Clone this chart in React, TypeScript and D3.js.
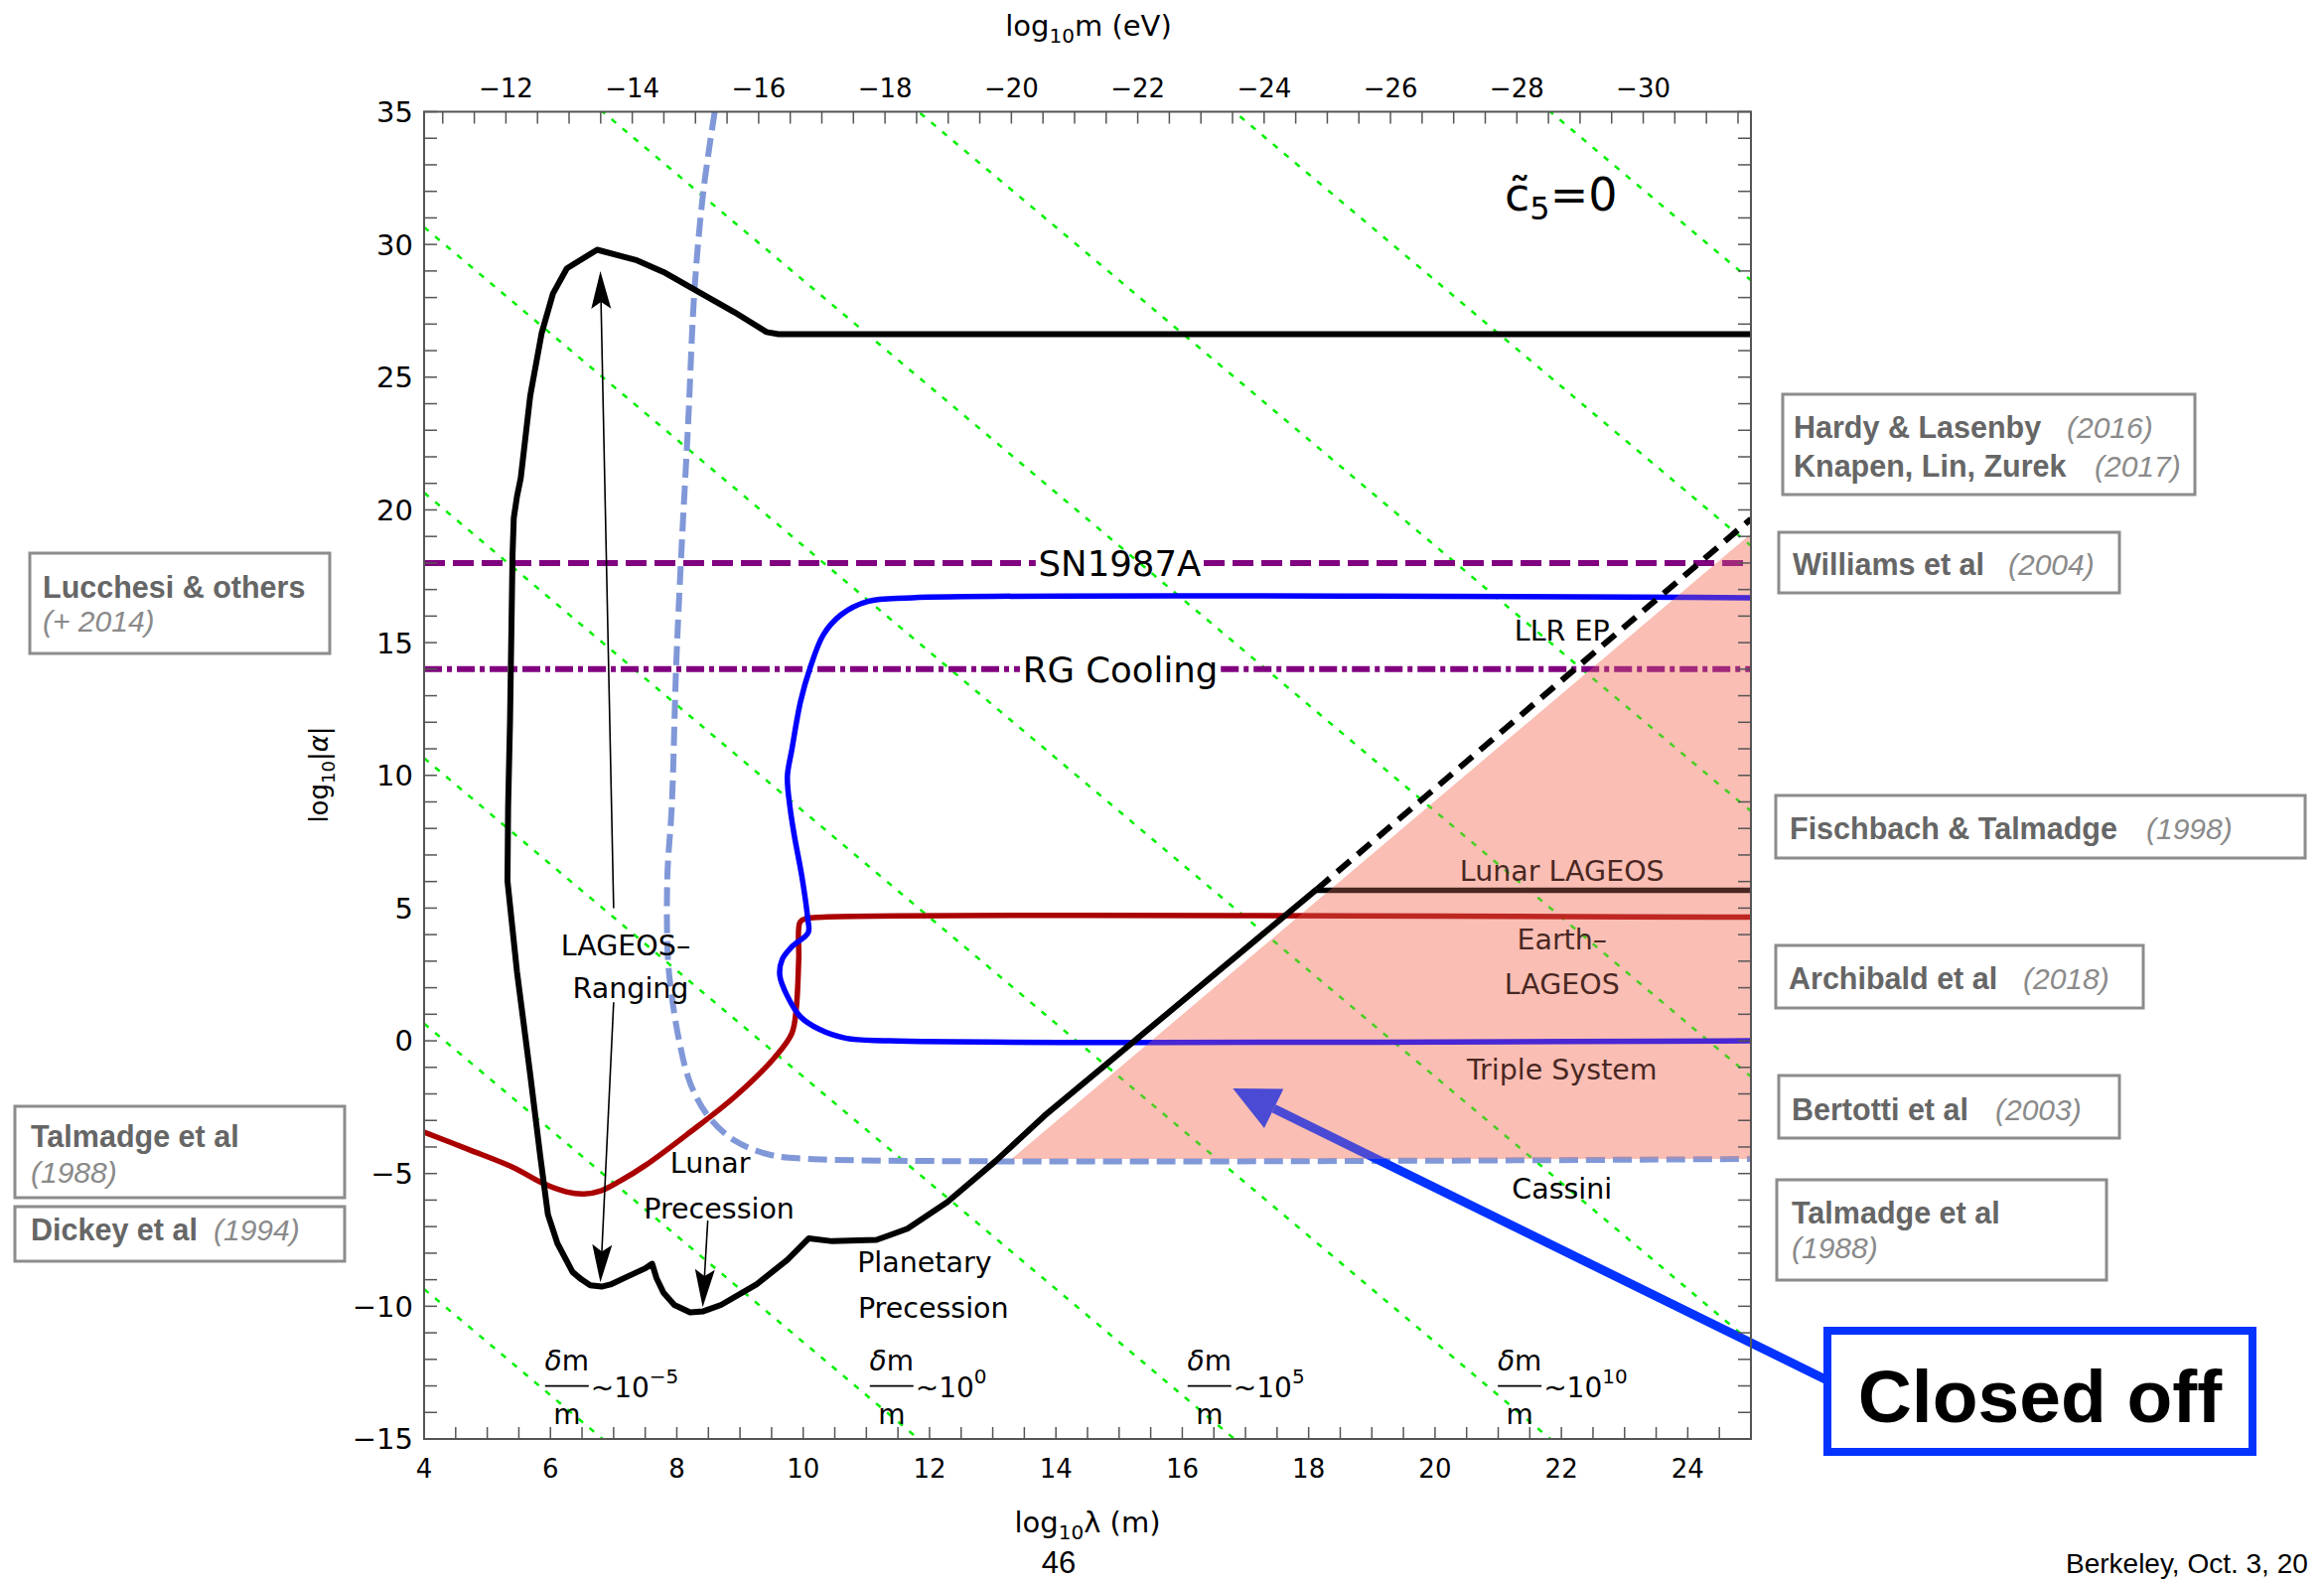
import React from "react";
import * as d3 from "d3";

type P = [number, number];

// ---------------- DATA ----------------
const xTickLabels = [4, 6, 8, 10, 12, 14, 16, 18, 20, 22, 24];
const yTickLabels = [-15, -10, -5, 0, 5, 10, 15, 20, 25, 30, 35];
const mTickLabels = [-12, -14, -16, -18, -20, -22, -24, -26, -28, -30];
const LOG10_HBARC_EV_M = -6.7048; // log10(ħc) in eV·m, links top axis to bottom axis

// LAGEOS-Ranging / Lunar / Planetary precession envelope (solid black)
const blackCurve: P[] = [
  [25, 26.62], [9.61, 26.62], [9.42, 26.7], [8.91, 27.45], [8.28, 28.3], [7.79, 28.96],
  [7.37, 29.4], [6.74, 29.8], [6.26, 29.1], [6.04, 28.15], [5.86, 26.65], [5.68, 24.3],
  [5.53, 21.2], [5.47, 20.5], [5.42, 19.7], [5.40, 18.3], [5.36, 12.0], [5.33, 8.8],
  [5.32, 6.02], [5.47, 2.61], [5.68, -1.27], [5.84, -4.37], [5.96, -6.54], [6.11, -7.63],
  [6.35, -8.71], [6.49, -8.99], [6.63, -9.21], [6.81, -9.26], [6.95, -9.18], [7.23, -8.87],
  [7.51, -8.56], [7.61, -8.4], [7.68, -8.95], [7.79, -9.49], [7.96, -9.95], [8.21, -10.23],
  [8.42, -10.19], [8.70, -9.95], [9.26, -9.18], [9.75, -8.25], [10.09, -7.44], [10.46, -7.55],
  [11.16, -7.5], [11.37, -7.32], [11.65, -7.08], [12.28, -6.08], [13.05, -4.52], [13.82, -2.82],
  [18.13, 5.71],
];
const blackDashed: P[] = [[18.13, 5.71], [25, 19.66]];

// LLR EP + Triple System (blue)
const blueCurve: P[] = [
  [25, 16.69], [11.72, 16.69], [11.02, 16.55], [10.60, 16.05], [10.32, 15.3], [10.11, 14.05],
  [9.96, 12.8], [9.82, 10.96], [9.75, 9.96], [9.79, 8.82], [9.86, 7.73], [9.98, 6.18],
  [10.07, 4.63], [10.08, 4.08], [9.82, 3.54], [9.67, 3.08], [9.63, 2.46], [9.75, 1.68],
  [9.96, 0.9], [10.25, 0.44], [10.67, 0.1], [11.37, 0.0], [25, 0.0],
];

// Earth-LAGEOS (dark red)
const redCurve: P[] = [
  [4.0, -3.44], [4.70, -4.09], [5.40, -4.76], [5.89, -5.38], [6.25, -5.69], [6.53, -5.77],
  [6.81, -5.64], [7.09, -5.30], [7.51, -4.68], [8.21, -3.44], [8.91, -2.12], [9.54, -0.65],
  [9.82, 0.28], [9.89, 1.21], [9.93, 3.08], [9.95, 4.47], [10.04, 4.60], [10.32, 4.66], [25, 4.66],
];

// Cassini (light blue dashed)
const cassiniCurve: P[] = [
  [8.6, 35], [8.42, 32], [8.28, 28.3], [8.18, 23.3], [8.07, 18.3], [7.99, 14.13], [7.92, 8.82],
  [7.85, 6.18], [7.86, 3.08], [7.93, 1.52], [8.04, -0.03], [8.21, -1.58], [8.49, -2.82],
  [8.91, -3.75], [9.47, -4.29], [10.1, -4.45], [25, -4.45],
];

const lunarLageos: P[] = [[18.13, 5.67], [25, 5.67]];
const closedRegion: P[] = [[13.3, -4.45], [25, 19.1], [25, -4.45]];

const snLevel = 18;
const snGap: P = [13.68, 16.34];
const rgLevel = 14;
const rgGap: P = [13.43, 16.61];

// δm/m ~ const lines: log|α| = c − 2·log λ
const greenIntercepts = [-1.35, 8.65, 18.65, 28.65, 38.65, 48.65, 58.65, 68.65, 78.65];
const dmLabelX = [6.26, 11.4, 16.43, 21.34];
const dmLabelExp = ["−5", "0", "5", "10"];

const lageosArrows: { from: P; to: P }[] = [
  { from: [7.0, 5.0], to: [6.79, 29.0] },
  { from: [7.0, 1.45], to: [6.79, -9.1] },
  { from: [8.49, -6.77], to: [8.41, -10.03] },
];

const plotLabels: { text: string; x: number; y: number; size: number }[] = [
  { text: "LAGEOS–", x: 7.19, y: 3.22, size: 28.5 },
  { text: "Ranging", x: 7.27, y: 1.61, size: 28.5 },
  { text: "Lunar", x: 8.53, y: -4.97, size: 28.5 },
  { text: "Precession", x: 8.67, y: -6.69, size: 28.5 },
  { text: "Planetary", x: 11.92, y: -8.71, size: 28.5 },
  { text: "Precession", x: 12.06, y: -10.43, size: 28.5 },
  { text: "LLR EP", x: 22.01, y: 15.08, size: 28.5 },
  { text: "Lunar LAGEOS", x: 22.01, y: 6.03, size: 28.5 },
  { text: "Earth–", x: 22.01, y: 3.44, size: 28.5 },
  { text: "LAGEOS", x: 22.01, y: 1.76, size: 28.5 },
  { text: "Triple System", x: 22.01, y: -1.46, size: 28.5 },
  { text: "Cassini", x: 22.01, y: -5.95, size: 28.5 },
];

const closedOffTip: P = [16.8, -1.79];

type RefLine = { t?: string; yr?: string; yrX?: number; by: number };
type RefBox = { x: number; y: number; w: number; h: number; tx: number; lines: RefLine[] };
const refBoxes: RefBox[] = [
  { x: 1795, y: 397, w: 415, h: 101, tx: 1806, lines: [
    { t: "Hardy & Lasenby", yr: "(2016)", yrX: 2081, by: 441 },
    { t: "Knapen, Lin, Zurek", yr: "(2017)", yrX: 2109, by: 480 } ] },
  { x: 1791, y: 536, w: 343, h: 61, tx: 1805, lines: [
    { t: "Williams et al", yr: "(2004)", yrX: 2022, by: 579 } ] },
  { x: 1788, y: 801, w: 533, h: 63, tx: 1802, lines: [
    { t: "Fischbach & Talmadge", yr: "(1998)", yrX: 2161, by: 845 } ] },
  { x: 1788, y: 952, w: 370, h: 63, tx: 1801, lines: [
    { t: "Archibald et al", yr: "(2018)", yrX: 2037, by: 996 } ] },
  { x: 1791, y: 1083, w: 343, h: 63, tx: 1804, lines: [
    { t: "Bertotti et al", yr: "(2003)", yrX: 2009, by: 1128 } ] },
  { x: 1789, y: 1188, w: 332, h: 101, tx: 1804, lines: [
    { t: "Talmadge et al", by: 1232 }, { yr: "(1988)", yrX: 1804, by: 1267 } ] },
  { x: 30, y: 557, w: 302, h: 101, tx: 43, lines: [
    { t: "Lucchesi & others", by: 602 }, { yr: "(+ 2014)", yrX: 43, by: 636 } ] },
  { x: 15, y: 1114, w: 332, h: 92, tx: 31, lines: [
    { t: "Talmadge et al", by: 1155 }, { yr: "(1988)", yrX: 31, by: 1191 } ] },
  { x: 15, y: 1215, w: 332, h: 55, tx: 31, lines: [
    { t: "Dickey et al", yr: "(1994)", yrX: 215, by: 1249 } ] },
];

// ---------------- LAYOUT ----------------
const W = 2340, H = 1591;
const PL = 427, PR = 1763, PT = 112.5, PB = 1449;
const FONT = "'DejaVu Sans', sans-serif";
const SANS = "'Liberation Sans', Arial, sans-serif";

const x = d3.scaleLinear().domain([4, 25]).range([PL, PR]);
const y = d3.scaleLinear().domain([-15, 35]).range([PB, PT]);
const lin = d3.line<P>().x((d) => x(d[0])).y((d) => y(d[1]));
const smooth = d3.line<P>().x((d) => x(d[0])).y((d) => y(d[1])).curve(d3.curveCatmullRom.alpha(0.5));

function arrowHead(tip: P, from: P, len: number, halfW: number, notch: number) {
  const dx = tip[0] - from[0], dy = tip[1] - from[1];
  const L = Math.hypot(dx, dy);
  const ux = dx / L, uy = dy / L;
  const nx = -uy, ny = ux;
  const bx = tip[0] - ux * len, by = tip[1] - uy * len;
  const mx = tip[0] - ux * len * notch, my = tip[1] - uy * len * notch;
  return {
    points: `${tip[0]},${tip[1]} ${bx + nx * halfW},${by + ny * halfW} ${mx},${my} ${bx - nx * halfW},${by - ny * halfW}`,
    end: [mx, my] as P,
  };
}

export default function App() {
  const leftMinor = d3.range(-15, 35.01, 1);
  const bottomMinor = d3.range(4, 25.01, 0.5);
  const topMinor = d3.range(-11, -31.51, -0.5).map((m) => LOG10_HBARC_EV_M - m).filter((v) => v >= 4 && v <= 25);

  const closedTipPx: P = [x(closedOffTip[0]), y(closedOffTip[1])];
  const closedTail: P = [1840, 1390];
  const closedHead = arrowHead(closedTipPx, closedTail, 46, 22, 1);

  return (
    <svg width={W} height={H} style={{ position: "absolute", left: 0, top: 0, background: "#fff" }}>
      <defs>
        <clipPath id="plotClip">
          <rect x={PL} y={PT} width={PR - PL} height={PB - PT} />
        </clipPath>
      </defs>
      <rect x={0} y={0} width={W} height={H} fill="#fff" />

      <g clipPath="url(#plotClip)">
        {/* pink closed region base */}
        <path d={lin(closedRegion) + "Z"} fill="#ffd9d1" />

        {/* green δm/m lines */}
        {greenIntercepts.map((c, i) => (
          <path key={i} d={lin([[4, c - 8], [25, c - 50]]) as string} stroke="#00f000" strokeWidth={2.5}
            strokeDasharray="6,8.5" fill="none" />
        ))}

        {/* SN1987A and RG cooling */}
        <path d={lin([[4, snLevel], [snGap[0], snLevel]]) as string} stroke="#800080" strokeWidth={6} strokeDasharray="21,8" fill="none" />
        <path d={lin([[snGap[1], snLevel], [25, snLevel]]) as string} stroke="#800080" strokeWidth={6} strokeDasharray="21,8" fill="none" />
        <path d={lin([[4, rgLevel], [rgGap[0], rgLevel]]) as string} stroke="#800080" strokeWidth={6} strokeDasharray="18,5,5,5" fill="none" />
        <path d={lin([[rgGap[1], rgLevel], [25, rgLevel]]) as string} stroke="#800080" strokeWidth={6} strokeDasharray="18,5,5,5" fill="none" />

        {/* Cassini */}
        <path d={smooth(cassiniCurve) as string} stroke="#8098d8" strokeWidth={6} strokeDasharray="19,8" fill="none" />

        {/* Earth-LAGEOS, LLR */}
        <path d={smooth(redCurve) as string} stroke="#aa0000" strokeWidth={5.5} fill="none" strokeLinejoin="round" />
        <path d={smooth(blueCurve) as string} stroke="#0000ff" strokeWidth={5.5} fill="none" strokeLinejoin="round" />
        <path d={lin(lunarLageos) as string} stroke="#000" strokeWidth={5.5} fill="none" />

        {/* black envelope */}
        <path d={lin(blackCurve) as string} stroke="#000" strokeWidth={6} fill="none" strokeLinejoin="round" />
        <path d={lin(blackDashed) as string} stroke="#000" strokeWidth={6} strokeDasharray="17,10" fill="none" />

        {/* labels */}
        {plotLabels.map((l, i) => (
          <text key={i} x={x(l.x)} y={y(l.y)} fontSize={l.size} fontFamily={FONT} textAnchor="middle" fill="#000">{l.text}</text>
        ))}
        <text x={x((snGap[0] + snGap[1]) / 2)} y={y(snLevel)} dy="0.36em" fontSize={35.5} fontFamily={FONT} textAnchor="middle">SN1987A</text>
        <text x={x((rgGap[0] + rgGap[1]) / 2)} y={y(rgLevel)} dy="0.36em" fontSize={35.5} fontFamily={FONT} textAnchor="middle">RG Cooling</text>

        {/* δm/m labels */}
        {dmLabelX.map((lx, i) => (
          <g key={i} fontFamily={FONT} fontSize={28}>
            <text x={x(lx)} y={y(-12.42)} textAnchor="middle"><tspan fontStyle="italic">δ</tspan>m</text>
            <line x1={x(lx) - 22} x2={x(lx) + 22} y1={y(-13.0)} y2={y(-13.0)} stroke="#000" strokeWidth={1.8} />
            <text x={x(lx)} y={y(-14.44)} textAnchor="middle">m</text>
            <text x={x(lx) + 24} y={y(-13.43)} textAnchor="start">~10<tspan dy="-14" fontSize={20}>{dmLabelExp[i]}</tspan></text>
          </g>
        ))}

        {/* LAGEOS arrows */}
        {lageosArrows.map((a, i) => {
          const tip: P = [x(a.to[0]), y(a.to[1])];
          const from: P = [x(a.from[0]), y(a.from[1])];
          const h = arrowHead(tip, from, 38, 10, 0.82);
          return (
            <g key={i}>
              <line x1={from[0]} y1={from[1]} x2={h.end[0]} y2={h.end[1]} stroke="#000" strokeWidth={1.6} />
              <polygon points={h.points} fill="#000" />
            </g>
          );
        })}
      </g>

      {/* closed-off arrow */}
      <line x1={closedTail[0]} y1={closedTail[1]} x2={closedHead.end[0]} y2={closedHead.end[1]} stroke="#0433ff" strokeWidth={9} />
      <polygon points={closedHead.points} fill="#0433ff" />

      {/* pink overlay (tints everything inside the region) */}
      <g clipPath="url(#plotClip)">
        <path d={lin(closedRegion) + "Z"} fill="#f08070" fillOpacity={0.3} />
      </g>

      {/* frame */}
      <rect x={PL} y={PT} width={PR - PL} height={PB - PT} fill="none" stroke="#555" strokeWidth={2} />
      {leftMinor.map((v, i) => (
        <g key={"l" + i}>
          <line x1={PL} x2={PL + 13} y1={y(v)} y2={y(v)} stroke="#555" strokeWidth={1.5} />
          <line x1={PR} x2={PR - 13} y1={y(v)} y2={y(v)} stroke="#555" strokeWidth={1.5} />
        </g>
      ))}
      {bottomMinor.map((v, i) => (
        <line key={"b" + i} x1={x(v)} x2={x(v)} y1={PB} y2={PB - 12} stroke="#555" strokeWidth={1.5} />
      ))}
      {topMinor.map((v, i) => (
        <line key={"t" + i} x1={x(v)} x2={x(v)} y1={PT} y2={PT + 12} stroke="#555" strokeWidth={1.5} />
      ))}
      {yTickLabels.map((v) => (
        <text key={"yl" + v} x={PL - 11} y={y(v)} dy="0.36em" textAnchor="end" fontSize={29} fontFamily={FONT}>
          {v < 0 ? `−${-v}` : `${v}`}
        </text>
      ))}
      {xTickLabels.map((v) => (
        <text key={"xl" + v} x={x(v)} y={PB + 39} textAnchor="middle" fontSize={26} fontFamily={FONT}>{v}</text>
      ))}
      {mTickLabels.map((m) => (
        <text key={"ml" + m} x={x(LOG10_HBARC_EV_M - m)} y={PT - 15} textAnchor="middle" fontSize={26} fontFamily={FONT}>
          {`−${-m}`}
        </text>
      ))}

      {/* axis titles */}
      <text x={1096} y={36} textAnchor="middle" fontSize={29} fontFamily={FONT}>
        log<tspan dy="7" fontSize={20}>10</tspan><tspan dy="-7">m (eV)</tspan>
      </text>
      <text x={1095} y={1543} textAnchor="middle" fontSize={29} fontFamily={FONT}>
        log<tspan dy="7" fontSize={20}>10</tspan><tspan dy="-7">λ (m)</tspan>
      </text>
      <text transform="translate(330,780) rotate(-90)" textAnchor="middle" fontSize={26} fontFamily={FONT}>
        log<tspan dy="7" fontSize={18}>10</tspan><tspan dy="-7">|</tspan><tspan fontStyle="italic">α</tspan>|
      </text>
      <text x={1515} y={212} fontSize={46} fontFamily={FONT}>
        c̃<tspan dy="9" fontSize={32}>5</tspan><tspan dy="-9">=0</tspan>
      </text>

      {/* reference boxes */}
      {refBoxes.map((b, i) => (
        <g key={"rb" + i}>
          <rect x={b.x} y={b.y} width={b.w} height={b.h} fill="none" stroke="#8c8c8c" strokeWidth={3} />
          {b.lines.map((ln, j) => (
            <g key={j}>
              {ln.t && <text x={b.tx} y={ln.by} fontSize={30.5} fontWeight="bold" fontFamily={SANS} fill="#666">{ln.t}</text>}
              {ln.yr && <text x={ln.yrX} y={ln.by} fontSize={30} fontStyle="italic" fontFamily={SANS} fill="#8a8a8a">{ln.yr}</text>}
            </g>
          ))}
        </g>
      ))}

      {/* Closed off box */}
      <rect x={1840} y={1340} width={428} height={122} fill="#fff" stroke="#0433ff" strokeWidth={8} />
      <text x={2054} y={1432} textAnchor="middle" fontSize={75} fontWeight="bold" fontFamily={SANS} fill="#000">Closed off</text>

      {/* footer */}
      <text x={1066} y={1584} textAnchor="middle" fontSize={31} fontFamily={SANS} fill="#000">46</text>
      <text x={2080} y={1584} fontSize={28} fontFamily={SANS} fill="#000">Berkeley, Oct. 3, 20</text>
    </svg>
  );
}
